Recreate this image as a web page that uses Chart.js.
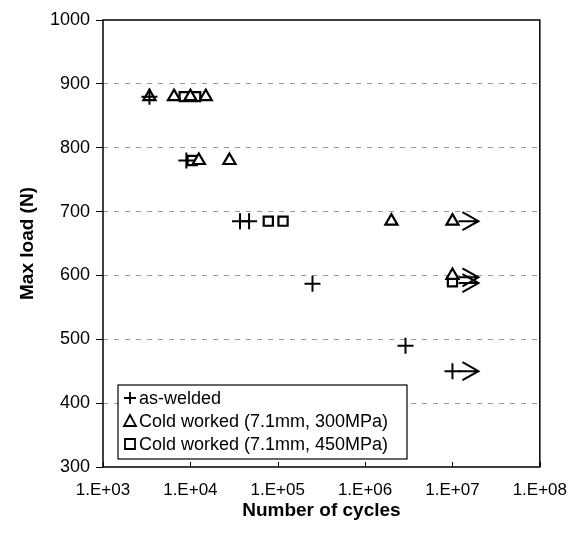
<!DOCTYPE html>
<html>
<head>
<meta charset="utf-8">
<script src="https://cdn.jsdelivr.net/npm/chart.js@4/dist/chart.umd.min.js"></script>
<style>
  html, body { margin: 0; padding: 0; background: #fff; }
  #wrap { position: relative; width: 580px; height: 545px; }
</style>
</head>
<body>
<div id="wrap"><canvas id="chart" width="580" height="545"></canvas></div>
<script>
// data
const asWelded = [[3.4e3, 880], [9e3, 780], [3.7e4, 685], [4.7e4, 685], [2.5e5, 587], [2.9e6, 490], [1e7, 450]];
const cold300 = [[3.4e3, 880], [6.5e3, 880], [1.0e4, 880], [1.5e4, 880], [1.25e4, 780], [2.8e4, 780], [2.0e6, 685], [1e7, 685], [1e7, 600]];
const cold450 = [[8.5e3, 880], [1.15e4, 880], [1.05e4, 780], [7.8e4, 685], [1.15e5, 685], [1e7, 590]];
// run-outs (no failure), shown with arrows
const runOuts = [[1e7, 685], [1e7, 597], [1e7, 588], [1e7, 450]];
const xTicks = [1e3, 1e4, 1e5, 1e6, 1e7, 1e8];
const yTicks = [300, 400, 500, 600, 700, 800, 900, 1000];
const legendLabels = ['as-welded', 'Cold worked (7.1mm, 300MPa)', 'Cold worked (7.1mm, 450MPa)'];

const FONT = "'Liberation Sans', Arial, sans-serif";
const toXY = arr => arr.map(p => ({x: p[0], y: p[1]}));

// border box, inward x ticks, run-out arrows, legend
const decor = {
    id: 'decor',
    afterDatasetsDraw(chart) {
        const ctx = chart.ctx;
        const a = chart.chartArea;
        const xs = chart.scales.x, ys = chart.scales.y;
        ctx.save();
        ctx.strokeStyle = '#000';
        ctx.lineWidth = 1.5;
        ctx.strokeRect(a.left, a.top, a.right - a.left, a.bottom - a.top);
        ctx.lineWidth = 1;
        xTicks.forEach(v => {
            const px = Math.round(xs.getPixelForValue(v)) + 0.5;
            ctx.beginPath();
            ctx.moveTo(px, a.bottom);
            ctx.lineTo(px, a.bottom - 5);
            ctx.stroke();
        });
        ctx.lineWidth = 2;
        runOuts.forEach(p => {
            const px = xs.getPixelForValue(p[0]);
            const py = ys.getPixelForValue(p[1]);
            ctx.beginPath();
            ctx.moveTo(px + 6, py);
            ctx.lineTo(px + 26, py);
            ctx.moveTo(px + 10, py - 9);
            ctx.lineTo(px + 26, py);
            ctx.lineTo(px + 10, py + 9);
            ctx.stroke();
        });
        // legend
        const lx = a.left + 15, ly = 385, lw = 289, lh = 74;
        ctx.fillStyle = '#fff';
        ctx.fillRect(lx, ly, lw, lh);
        ctx.lineWidth = 1.2;
        ctx.strokeRect(lx, ly, lw, lh);
        ctx.fillStyle = '#000';
        ctx.font = '18px ' + FONT;
        ctx.textBaseline = 'middle';
        legendLabels.forEach((t, i) => {
            const cy = ly + 13 + i * 23;
            const mx = lx + 12;
            ctx.lineWidth = 1.8;
            ctx.beginPath();
            if (i === 0) {
                ctx.moveTo(mx - 6, cy); ctx.lineTo(mx + 6, cy);
                ctx.moveTo(mx, cy - 6); ctx.lineTo(mx, cy + 6);
            } else if (i === 1) {
                ctx.moveTo(mx, cy - 6); ctx.lineTo(mx + 6, cy + 5); ctx.lineTo(mx - 6, cy + 5); ctx.closePath();
            } else {
                ctx.rect(mx - 5, cy - 5, 10, 10);
            }
            ctx.stroke();
            ctx.fillText(t, lx + 21, cy + 1);
        });
        ctx.restore();
    }
};

const common = {
    showLine: false,
    borderColor: '#000',
    backgroundColor: '#fff',
    borderWidth: 2.2,
    pointRadius: 7,
    pointHoverRadius: 7
};

new Chart(document.getElementById('chart').getContext('2d'), {
    type: 'scatter',
    data: {
        datasets: [
            Object.assign({label: legendLabels[0], data: toXY(asWelded), pointStyle: 'cross'}, common, {pointRadius: 8, borderWidth: 2}),
            Object.assign({label: legendLabels[1], data: toXY(cold300), pointStyle: 'triangle'}, common),
            Object.assign({label: legendLabels[2], data: toXY(cold450), pointStyle: 'rect'}, common, {pointRadius: 6.5})
        ]
    },
    options: {
        responsive: false,
        animation: false,
        events: [],
        layout: {padding: {top: 20, right: 40, left: 0, bottom: 0}},
        plugins: {legend: {display: false}, tooltip: {enabled: false}},
        scales: {
            x: {
                type: 'logarithmic',
                min: 1e3,
                max: 1e8,
                afterBuildTicks: s => { s.ticks = xTicks.map(v => ({value: v})); },
                afterFit: s => { s.height = 78; },
                ticks: {
                    color: '#000',
                    font: {family: FONT, size: 17},
                    padding: 13,
                    maxRotation: 0,
                    callback: v => '1.E+0' + Math.round(Math.log10(v))
                },
                grid: {display: false, drawTicks: false},
                border: {display: false},
                title: {
                    display: true,
                    text: 'Number of cycles',
                    color: '#000',
                    font: {family: FONT, size: 19, weight: 'bold'},
                    padding: {top: 0, bottom: 23}
                }
            },
            y: {
                min: 300,
                max: 1000,
                afterBuildTicks: s => { s.ticks = yTicks.map(v => ({value: v})); },
                afterFit: s => { s.width = 103; },
                ticks: {
                    color: '#000',
                    font: {family: FONT, size: 18},
                    padding: 6,
                    callback: v => String(v)
                },
                grid: {
                    color: c => (c.tick && (c.tick.value === 300 || c.tick.value === 1000)) ? 'rgba(0,0,0,0)' : '#999',
                    lineWidth: 1,
                    tickLength: 7,
                    tickColor: '#000',
                    tickBorderDash: []
                },
                border: {display: false, dash: [5, 6]},
                title: {
                    display: true,
                    text: 'Max load (N)',
                    color: '#000',
                    font: {family: FONT, size: 19, weight: 'bold'},
                    padding: {top: 16, bottom: 0}
                }
            }
        }
    },
    plugins: [decor]
});
</script>
</body>
</html>
